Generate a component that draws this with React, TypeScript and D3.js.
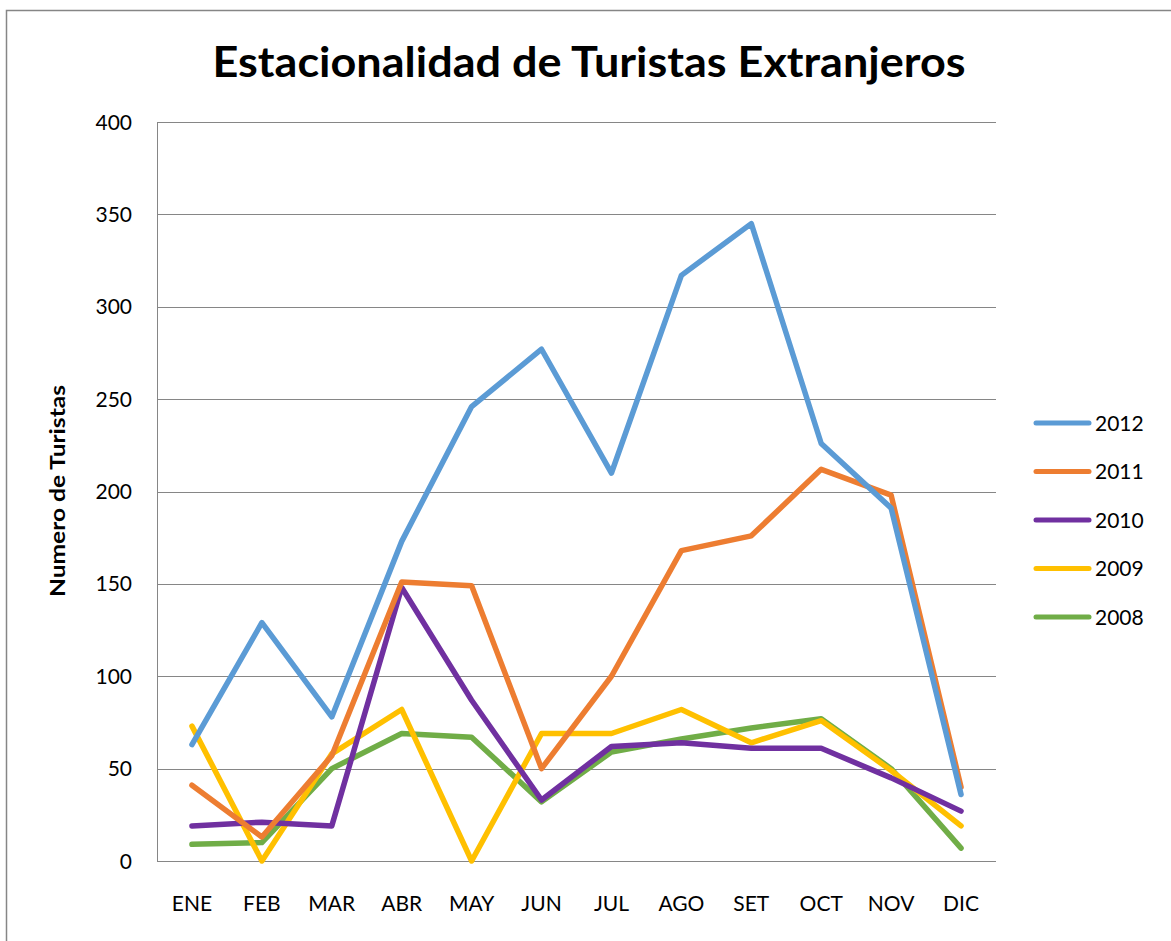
import * as d3 from 'd3';

const months = ['ENE', 'FEB', 'MAR', 'ABR', 'MAY', 'JUN', 'JUL', 'AGO', 'SET', 'OCT', 'NOV', 'DIC'];
const yTicks = [0, 50, 100, 150, 200, 250, 300, 350, 400];

const v2012 = [63, 129, 78, 173, 246, 277, 210, 317, 345, 226, 191, 36];
const v2011 = [41, 13, 57, 151, 149, 50, 100, 168, 176, 212, 198, 40];
const v2010 = [19, 21, 19, 148, 87, 33, 62, 64, 61, 61, 45, 27];
const v2009 = [73, 0, 58, 82, 0, 69, 69, 82, 64, 76, 49, 19];
const v2008 = [9, 10, 50, 69, 67, 32, 59, 66, 72, 77, 50, 7];

const seriesNames = ['2012', '2011', '2010', '2009', '2008'];
const seriesColors = ['#5B9BD5', '#ED7D31', '#7030A0', '#FFC000', '#70AD47'];

export default function App() {
  const W = 1171;
  const H = 941;
  const left = 157;
  const right = 996;
  const top = 122;
  const bottom = 861;

  const series = [v2012, v2011, v2010, v2009, v2008];

  const x = d3.scaleBand<string>().domain(months).range([left, right]).padding(0);
  const y = d3.scaleLinear().domain([0, 400]).range([bottom, top]);

  const line = d3
    .line<number>()
    .x((_, i) => (x(months[i]) as number) + x.bandwidth() / 2)
    .y((d) => y(d));

  const font = "Lato, 'Open Sans', sans-serif";

  return (
    <svg
      width={W}
      height={H}
      style={{ position: 'absolute', left: 0, top: 0, background: '#fff' }}
      fontFamily={font}
    >
      <rect x={0} y={0} width={W} height={H} fill="#fff" />
      {/* outer chart frame */}
      <rect x={6.5} y={10.5} width={W + 20} height={H + 20} fill="none" stroke="#868686" strokeWidth={1.5} />

      <text
        x={589}
        y={77}
        textAnchor="middle"
        fontSize={42}
        fontWeight="bold"
        textLength={753}
        lengthAdjust="spacingAndGlyphs"
        fill="#000"
      >
        Estacionalidad de Turistas Extranjeros
      </text>

      {/* gridlines */}
      {yTicks.map((t) => (
        <line key={t} x1={left} x2={right} y1={Math.round(y(t)) + 0.5} y2={Math.round(y(t)) + 0.5} stroke="#868686" strokeWidth={1} />
      ))}
      <line x1={left + 0.5} x2={left + 0.5} y1={top} y2={bottom + 0.5} stroke="#868686" strokeWidth={1} />

      {/* y tick labels */}
      {yTicks.map((t) => (
        <text key={t} x={132} y={y(t)} dy="0.36em" textAnchor="end" fontSize={21} fill="#000">
          {t}
        </text>
      ))}

      {/* x tick labels */}
      {months.map((m) => (
        <text
          key={m}
          x={(x(m) as number) + x.bandwidth() / 2}
          y={911}
          textAnchor="middle"
          fontSize={21}
          fill="#000"
        >
          {m}
        </text>
      ))}

      <text
        transform="translate(65,491) rotate(-90)"
        textAnchor="middle"
        fontSize={20}
        fontWeight="bold"
        textLength={212}
        lengthAdjust="spacingAndGlyphs"
        fill="#000"
      >
        Numero de Turistas
      </text>

      {/* series lines, drawn back to front */}
      {series
        .map((s, i) => ({ s, i }))
        .reverse()
        .map(({ s, i }) => (
          <path
            key={seriesNames[i]}
            d={line(s) || ''}
            fill="none"
            stroke={seriesColors[i]}
            strokeWidth={5.5}
            strokeLinejoin="round"
            strokeLinecap="round"
          />
        ))}

      {/* legend */}
      {seriesNames.map((n, i) => {
        const ly = 423 + i * 48.5;
        return (
          <g key={n}>
            <line x1={1036} x2={1089} y1={ly} y2={ly} stroke={seriesColors[i]} strokeWidth={5} strokeLinecap="round" />
            <text x={1095} y={ly} dy="0.36em" fontSize={21} fill="#000">
              {n}
            </text>
          </g>
        );
      })}
    </svg>
  );
}
